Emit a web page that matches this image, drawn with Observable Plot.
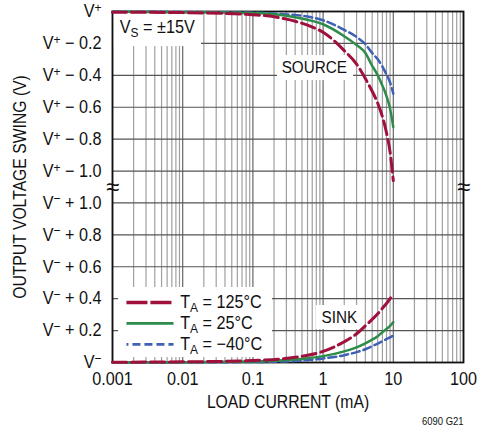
<!DOCTYPE html>
<html><head><meta charset="utf-8">
<script src="https://cdn.jsdelivr.net/npm/d3@7"></script>
<script src="https://cdn.jsdelivr.net/npm/@observablehq/plot@0.6"></script>
<style>
body{margin:0;background:#fff;}
#chart svg{font-family:"Liberation Sans","Arial",sans-serif;}
</style></head><body><div id="chart"></div>
<script>
// ---- data ----
const currents = [0.001,0.01,0.1,0.3,0.6,1,2,3,4,5,6,7,8,9,10]; // mA
// SOURCE: drop below V+ (V)
const source125 = [0.004,0.007,0.02,0.048,0.086,0.13,0.245,0.33,0.42,0.5,0.575,0.66,0.76,0.88,1.06];
const source25  = [0.002,0.004,0.01,0.027,0.052,0.08,0.155,0.21,0.26,0.34,0.40,0.465,0.53,0.61,0.725];
const sourceM40 = [0.001,0.003,0.008,0.018,0.032,0.055,0.115,0.16,0.205,0.26,0.30,0.345,0.395,0.445,0.515];
// SINK: rise above V- (V)
const sink125 = [0.002,0.004,0.012,0.026,0.045,0.07,0.13,0.18,0.23,0.27,0.305,0.34,0.37,0.40,0.43];
const sink25  = [0.001,0.002,0.006,0.015,0.027,0.04,0.07,0.095,0.12,0.143,0.165,0.19,0.21,0.23,0.253];
const sinkM40 = [0,0.001,0.003,0.007,0.015,0.025,0.046,0.065,0.083,0.102,0.118,0.133,0.147,0.158,0.169];

const seriesNames  = ["T_A = 125°C","T_A = 25°C","T_A = −40°C"];
const seriesColors = ["#a0103c","#2e8b4a","#3f60b5"];
const seriesDash   = ["14,5","none","8,4"];
const seriesWidth  = [3,2.5,2.5];

// axis ticks
const xTickValues = [0.001,0.01,0.1,1,10,100];
const xTickLabels = ["0.001","0.01","0.1","1","10","100"];
// axis position: V- = 0 ... V-+1.0 = 1.0 | break | V+-1.0 = 1.2 ... V+ = 2.2
const yTickValues = [0,0.2,0.4,0.6,0.8,1.0,1.2,1.4,1.6,1.8,2.0,2.2];
const yTickLabels = ["V^−","V^− + 0.2","V^− + 0.4","V^− + 0.6","V^− + 0.8","V^− + 1.0",
                     "V^+ − 1.0","V^+ − 0.8","V^+ − 0.6","V^+ − 0.4","V^+ − 0.2","V^+"];
const vTop = 2.2;

const xLabel = "LOAD CURRENT (mA)";
const yLabel = "OUTPUT VOLTAGE SWING (V)";
const caption = "6090 G21";

// annotation boxes and texts (data units)
const boxes = [
  {x1:0.001,  x2:0.0185, y1:2.2,  y2:1.98},   // VS label
  {x1:0.224,  x2:2.71,   y1:1.924,y2:1.767},  // SOURCE
  {x1:0.80,   x2:3.3,    y1:0.357,y2:0.207},  // SINK
  {x1:0.00122,x2:0.19,   y1:0.47, y2:0.031}   // legend
];
const vsNote = {x:0.00127, y:2.10, t:"V_S = ±15V"};
const centerNotes = [
  {x:0.75,   y:1.849,t:"SOURCE"},
  {x:1.71,   y:0.282,t:"SINK"}
];
const legendRowsY = [0.376,0.245,0.113];
const legendX1 = 0.00158, legendX2 = 0.0074, legendTextX = 0.0092;
const breakY = 1.1;

// ---- build ----
const sourceSets = [source125, source25, sourceM40];
const sinkSets = [sink125, sink25, sinkM40];
const minorTicks = [];
for (let e = -3; e <= 1; e++) for (let k = 2; k <= 9; k++) minorTicks.push(k * Math.pow(10, e));

const lineMarks = [];
[2,1,0].forEach(s => {
  const src = currents.map((c,i) => ({x:c, y: vTop - sourceSets[s][i]}));
  const snk = currents.map((c,i) => ({x:c, y: sinkSets[s][i]}));
  for (const d of [src, snk]) {
    lineMarks.push(Plot.line(d, {x:"x", y:"y", stroke: seriesColors[s], strokeWidth: seriesWidth[s],
      strokeDasharray: seriesDash[s], curve:"monotone-x"}));
  }
});
const legendData = seriesNames.map((n,i) => ({n, i, y: legendRowsY[i]}));
const legendLines = legendData.map(d => Plot.link([d], {x1: () => legendX1, x2: () => legendX2, y1:"y", y2:"y",
  stroke: seriesColors[d.i], strokeWidth: seriesWidth[d.i] + 0.3, strokeDasharray: d.i === 0 ? "21,3" : seriesDash[d.i],
  strokeDashoffset: d.i === 2 ? 6 : 0}));

const FS = 18;
const chart = Plot.plot({
  width: 490, height: 435,
  marginLeft: 112, marginRight: 27, marginTop: 11, marginBottom: 73,
  x: {type:"log", domain:[0.001,100]},
  y: {domain:[0,2.2]},
  style: {fontSize: FS + "px", color:"#111", background:"#fff"},
  marks: [
    Plot.ruleX(minorTicks, {stroke:"#a0a0a0", strokeWidth:1.2}),
    Plot.ruleX(xTickValues, {stroke:"#666", strokeWidth:1.2}),
    Plot.ruleY(yTickValues, {stroke:"#555", strokeWidth:1.2}),
    Plot.rect(boxes, {x1:"x1", x2:"x2", y1:"y1", y2:"y2", fill:"white"}),
    Plot.frame({stroke:"#111", strokeWidth:1.8}),
    ...lineMarks,
    ...legendLines,
    Plot.text(legendData, {x: () => legendTextX, y:"y", text:"n", textAnchor:"start", fontSize:FS, fill:"#111"}),
    Plot.text([vsNote], {x:"x", y:"y", text:"t", textAnchor:"start", fontSize:FS, fill:"#111"}),
    Plot.text(centerNotes, {x:"x", y:"y", text:"t", textAnchor:"middle", fontSize:17, fill:"#111"}),
    Plot.text([{x:0.001,y:breakY},{x:100,y:breakY}], {x:"x", y:"y", text: () => "≈", fontSize:24, fill:"#111"}),
    Plot.axisX({ticks: xTickValues, tickFormat: d => xTickLabels[xTickValues.indexOf(d)], tickSize:0, tickPadding:10, fontSize:FS, label:null}),
    Plot.axisY({ticks: yTickValues, tickFormat: d => yTickLabels[yTickValues.indexOf(d)], tickSize:0, tickPadding:11, fontSize:FS, label:null}),
    Plot.text([yLabel], {frameAnchor:"left", dx:-92, rotate:-90, textAnchor:"middle", fontSize:17.5, fill:"#111"}),
    Plot.text([xLabel], {frameAnchor:"bottom", dy:45, textAnchor:"middle", fontSize:17.5, fill:"#111"}),
    Plot.text([caption], {frameAnchor:"bottom-right", dy:62, textAnchor:"end", fontSize:10.5, fill:"#111"})
  ]
});

// rich text: ^x superscript, _x subscript
const NS = "http://www.w3.org/2000/svg";
chart.querySelectorAll("text").forEach(t => {
  const s = t.textContent;
  if (!/[\^_]/.test(s)) return;
  while (t.firstChild) t.removeChild(t.firstChild);
  const re = /([\^_])(.)/g; let last = 0, m;
  const plain = str => { if (str) { const sp = document.createElementNS(NS,"tspan"); sp.textContent = str; t.appendChild(sp); } };
  while ((m = re.exec(s))) {
    plain(s.slice(last, m.index));
    const sp = document.createElementNS(NS,"tspan");
    sp.setAttribute("baseline-shift", m[1] === "^" ? "42%" : "-30%");
    sp.setAttribute("font-size", "74%");
    sp.textContent = m[2];
    t.appendChild(sp);
    last = re.lastIndex;
  }
  plain(s.slice(last));
});
document.getElementById("chart").appendChild(chart);
// emulate a condensed face: squeeze each text horizontally about its own anchor point
const SQ = 0.9;
chart.querySelectorAll("text").forEach(t => {
  if (t.textContent === "≈") return;
  const x = parseFloat(t.getAttribute("x")) || 0;
  const y = parseFloat(t.getAttribute("y")) || 0;
  const tr = t.getAttribute("transform") || "";
  t.setAttribute("transform", `${tr} translate(${x},${y}) scale(${SQ},1) translate(${-x},${-y})`.trim());
});
</script></body></html>
